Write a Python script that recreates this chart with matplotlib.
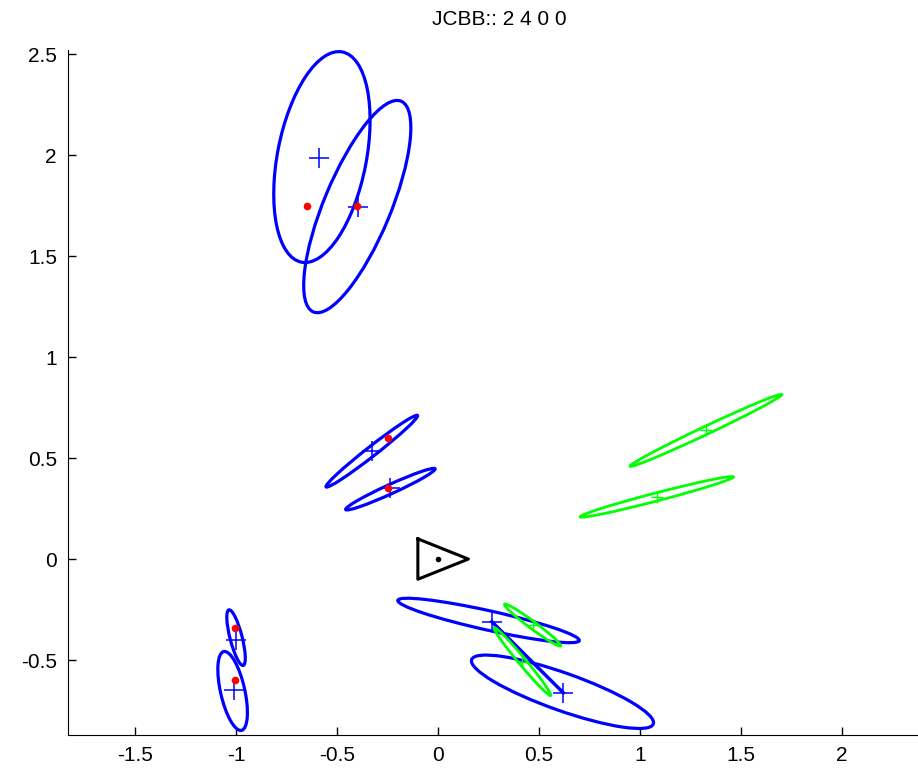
import numpy as np
import matplotlib
matplotlib.use("Agg")
import matplotlib.pyplot as plt
from matplotlib.patches import Ellipse

plt.rcParams['font.family'] = ['Liberation Sans', 'DejaVu Sans']
plt.rcParams['axes.unicode_minus'] = False

# landmark estimates (blue): centre, semi axes, angle in degrees
blue_x = [-0.575, -0.40, -0.328, -0.236, 0.25, 0.616, -1.0, -1.017]
blue_y = [1.99, 1.745, 0.534, 0.346, -0.304, -0.657, -0.389, -0.653]
blue_a = [0.53, 0.565, 0.287, 0.243, 0.46, 0.477, 0.142, 0.20]
blue_b = [0.22, 0.165, 0.024, 0.023, 0.048, 0.093, 0.030, 0.060]
blue_ang = [79.0, 67.4, 38.0, 24.5, -12.5, -19.5, 104.4, 102.7]

# blue crosses
cross_x = [-0.59, -0.397, -0.328, -0.236, 0.266, 0.62, -1.0, -1.008]
cross_y = [1.985, 1.744, 0.534, 0.35, -0.31, -0.662, -0.40, -0.648]

# red dots
red_x = [-0.647, -0.40, -0.249, -0.249, -1.003, -1.003]
red_y = [1.749, 1.75, 0.598, 0.350, -0.343, -0.599]

# observations (green)
green_x = [1.326, 1.083, 0.468, 0.418]
green_y = [0.637, 0.308, -0.327, -0.508]
green_a = [0.415, 0.392, 0.173, 0.218]
green_b = [0.02, 0.02, 0.018, 0.018]
green_ang = [25.3, 14.6, -36.6, -50.2]

# robot
robot_x = [-0.1, -0.1, 0.15, -0.1]
robot_y = [0.1, -0.1, 0.0, 0.1]

xticks = [-1.5, -1, -0.5, 0, 0.5, 1, 1.5, 2]
xlabels = ['-1.5', '-1', '-0.5', '0', '0.5', '1', '1.5', '2']
yticks = [-0.5, 0, 0.5, 1, 1.5, 2, 2.5]
ylabels = ['-0.5', '0', '0.5', '1', '1.5', '2', '2.5']

fig = plt.figure(figsize=(9.18, 7.73), dpi=100)
ax = fig.add_axes([68/918, 38/773, 850/918, 685/773])

# association line
ax.plot([cross_x[4], cross_x[5]], [cross_y[4], cross_y[5]], color='#0000ff', lw=2.5, zorder=2)

for i in range(len(blue_x)):
    e = Ellipse((blue_x[i], blue_y[i]), 2*blue_a[i], 2*blue_b[i], angle=blue_ang[i],
                fill=False, edgecolor='#0000ff', lw=2.3, zorder=3)
    ax.add_patch(e)

for i in range(len(green_x)):
    e = Ellipse((green_x[i], green_y[i]), 2*green_a[i], 2*green_b[i], angle=green_ang[i],
                fill=False, edgecolor='#00ff00', lw=2.0, zorder=4)
    ax.add_patch(e)
ax.plot(green_x, green_y, '+', color='#00ff00', ms=8, mew=1, zorder=4)

ax.plot(cross_x, cross_y, '+', color='#0000ff', ms=14, mew=1.1, zorder=5)
ax.plot(red_x, red_y, 'o', color='#ff0000', ms=5.5, mec='none', zorder=6)

ax.plot(robot_x, robot_y, color='black', lw=2.2, zorder=5)
ax.plot([0], [0], 'o', color='black', ms=4, mec='none', zorder=6)

ax.set_xlim(-1.832, 2.376)
ax.set_ylim(-0.871, 2.52)
ax.set_xticks(xticks)
ax.set_xticklabels(xlabels)
ax.set_yticks(yticks)
ax.set_yticklabels(ylabels)
ax.tick_params(direction='in', length=6, width=1, labelsize=15, pad=8)
ax.spines['top'].set_visible(False)
ax.spines['right'].set_visible(False)
ax.set_title('JCBB:: 2 4 0 0', fontsize=15, x=(499-68)/850, pad=18)

fig.savefig('out.png', dpi=100)
